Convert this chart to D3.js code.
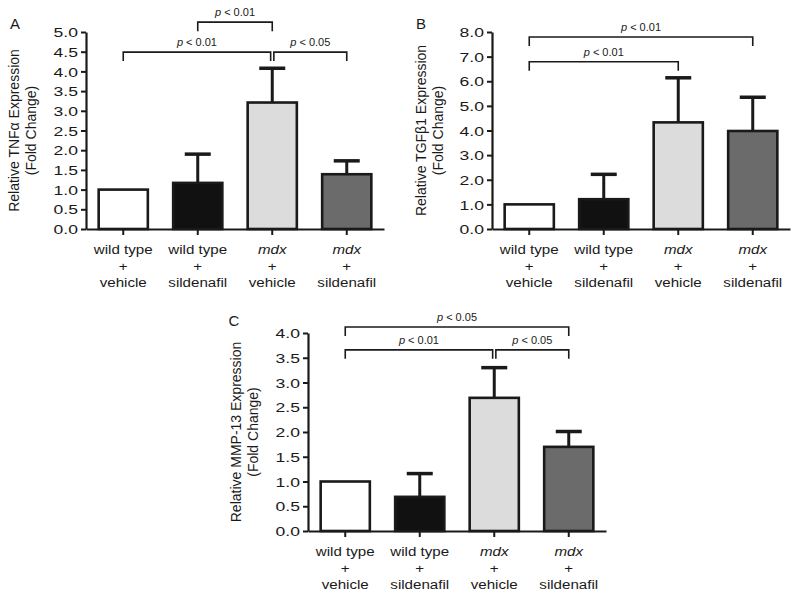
<!DOCTYPE html>
<html><head><meta charset="utf-8">
<script src="https://cdn.jsdelivr.net/npm/d3@7"></script>
<style>
body{margin:0;background:#fff}
text{font-family:"Liberation Sans",Arial,Helvetica,sans-serif;fill:#1a1a1a}
</style>
</head><body>
<svg id="chart" width="800" height="598"></svg>
<script>
// ---------- data ----------
const categories = ["wt-vehicle","wt-sildenafil","mdx-vehicle","mdx-sildenafil"];
const groupLine1 = ["wild type","wild type","mdx","mdx"];
const groupLine2 = ["+","+","+","+"];
const groupLine3 = ["vehicle","sildenafil","vehicle","sildenafil"];
const groupItalic = [false,false,true,true];
const barColors = ["#ffffff","#111111","#dcdcdc","#6b6b6b"];

const tnfMean = [1.00, 1.17, 3.21, 1.39];
const tnfErr  = [0.00, 0.73, 0.87, 0.34];
const tgfMean = [1.00, 1.21, 4.33, 3.98];
const tgfErr  = [0.00, 1.01, 1.81, 1.37];
const mmpMean = [1.00, 0.69, 2.69, 1.70];
const mmpErr  = [0.00, 0.47, 0.61, 0.31];

const tnfTicks = [0,0.5,1,1.5,2,2.5,3,3.5,4,4.5,5];
const tgfTicks = [0,1,2,3,4,5,6,7,8];
const mmpTicks = [0,0.5,1,1.5,2,2.5,3,3.5,4];

const tnfBrackets = [
  {from:1, to:2, y:5.25, label:"0.01"},
  {from:0, to:2, y:4.49, label:"0.01"},
  {from:2, to:3, y:4.49, label:"0.05"}
];
const tgfBrackets = [
  {from:0, to:3, y:7.80, label:"0.01"},
  {from:0, to:2, y:6.79, label:"0.01"}
];
const mmpBrackets = [
  {from:0, to:3, y:4.12, label:"0.05"},
  {from:0, to:2, y:3.66, label:"0.01"},
  {from:2, to:3, y:3.66, label:"0.05"}
];

// ---------- drawing ----------
const svg = d3.select("#chart");
const TICK_SX = 1.35;

function drawPanel(cfg){
  const g = svg.append("g");
  const y = d3.scaleLinear().domain([0, cfg.max]).range([cfg.yBottom, cfg.yTop]);
  const x = d3.scaleBand().domain(categories).range([cfg.x0, cfg.x0 + 298])
    .paddingInner(0.34).paddingOuter(0.17);

  // y axis
  const ya = g.append("g").attr("transform", `translate(${cfg.x0},0)`)
    .call(d3.axisLeft(y).tickValues(cfg.ticks).tickSize(5).tickSizeOuter(0).tickFormat(d3.format(".1f")));
  ya.select(".domain").attr("stroke","#1a1a1a").attr("stroke-width",2.2);
  ya.selectAll(".tick line").attr("stroke","#1a1a1a").attr("stroke-width",2);
  ya.selectAll(".tick text")
    .attr("font-size",13).attr("font-family",null)
    .attr("x", -8 / TICK_SX).attr("dy","0.36em")
    .attr("transform", `scale(${TICK_SX},1)`)
    .style("fill","#1a1a1a");

  // x axis
  const xa = g.append("g").attr("transform", `translate(0,${cfg.yBottom})`)
    .call(d3.axisBottom(x).tickSize(6).tickSizeOuter(0).tickFormat(""));
  xa.select(".domain").attr("stroke","#1a1a1a").attr("stroke-width",2.2);
  xa.selectAll(".tick line").attr("stroke","#1a1a1a").attr("stroke-width",2);

  // x labels
  categories.forEach((c,i) => {
    const cx = x(c) + x.bandwidth()/2;
    const lines = [groupLine1[i], groupLine2[i], groupLine3[i]];
    lines.forEach((t,k) => {
      g.append("text")
        .attr("transform", `translate(${cx},${cfg.yBottom + 25 + k*16.5}) scale(1.12,1)`)
        .attr("text-anchor","middle").attr("font-size",13.5)
        .attr("font-style", (k===0 && groupItalic[i]) ? "italic" : "normal")
        .text(t);
    });
  });

  // error bars
  categories.forEach((c,i) => {
    if (cfg.err[i] <= 0) return;
    const cx = x(c) + x.bandwidth()/2;
    g.append("line").attr("x1",cx).attr("x2",cx)
      .attr("y1", y(cfg.mean[i])).attr("y2", y(cfg.mean[i] + cfg.err[i]))
      .attr("stroke","#1a1a1a").attr("stroke-width",3);
    g.append("line").attr("x1",cx-13).attr("x2",cx+13)
      .attr("y1", y(cfg.mean[i] + cfg.err[i])).attr("y2", y(cfg.mean[i] + cfg.err[i]))
      .attr("stroke","#1a1a1a").attr("stroke-width",3.5);
  });

  // bars
  g.selectAll("rect.bar").data(categories).join("rect").attr("class","bar")
    .attr("x", d => x(d)).attr("width", x.bandwidth())
    .attr("y", (d,i) => y(cfg.mean[i]))
    .attr("height", (d,i) => y(0) - y(cfg.mean[i]))
    .attr("fill", (d,i) => barColors[i])
    .attr("stroke","#1a1a1a").attr("stroke-width",2.6);

  // significance brackets
  const center = i => x(categories[i]) + x.bandwidth()/2;
  cfg.brackets.forEach((b, bi) => {
    let xa1 = center(b.from), xa2 = center(b.to);
    cfg.brackets.forEach((o, oi) => {
      if (oi === bi || o.y !== b.y) return;
      if (o.from === b.to) xa2 -= 1.6;
      if (o.to === b.from) xa1 += 1.6;
    });
    const yy = y(b.y);
    g.append("path")
      .attr("d", `M${xa1},${yy+9}V${yy}H${xa2}V${yy+9}`)
      .attr("fill","none").attr("stroke","#1a1a1a").attr("stroke-width",1.6);
    const t = g.append("text").attr("x",(xa1+xa2)/2).attr("y",yy-6)
      .attr("text-anchor","middle").attr("font-size",11);
    t.append("tspan").attr("font-style","italic").text("p");
    t.append("tspan").text(" < " + b.label);
  });

  // y title
  const tg = g.append("text").attr("text-anchor","middle").attr("font-size",14)
    .attr("transform", `translate(${cfg.titleX},${(cfg.yTop+cfg.yBottom)/2}) rotate(-90)`);
  tg.append("tspan").attr("x",0).attr("dy",0).text(cfg.title);
  tg.append("tspan").attr("x",0).attr("dy",16.5).text("(Fold Change)");

  // panel letter
  g.append("text").attr("x",cfg.letterX).attr("y",cfg.letterY)
    .attr("font-size",15).attr("text-anchor","middle").text(cfg.letter);
}

drawPanel({x0:86, yTop:32, yBottom:229, max:5, ticks:tnfTicks, mean:tnfMean, err:tnfErr,
  brackets:tnfBrackets, title:"Relative TNFα Expression", titleX:19, letter:"A", letterX:15, letterY:29});
drawPanel({x0:492, yTop:32, yBottom:229, max:8, ticks:tgfTicks, mean:tgfMean, err:tgfErr,
  brackets:tgfBrackets, title:"Relative TGFβ1 Expression", titleX:426, letter:"B", letterX:421, letterY:29});
drawPanel({x0:308, yTop:333, yBottom:531, max:4, ticks:mmpTicks, mean:mmpMean, err:mmpErr,
  brackets:mmpBrackets, title:"Relative MMP-13 Expression", titleX:241, letter:"C", letterX:234, letterY:326});
</script>
</body></html>
